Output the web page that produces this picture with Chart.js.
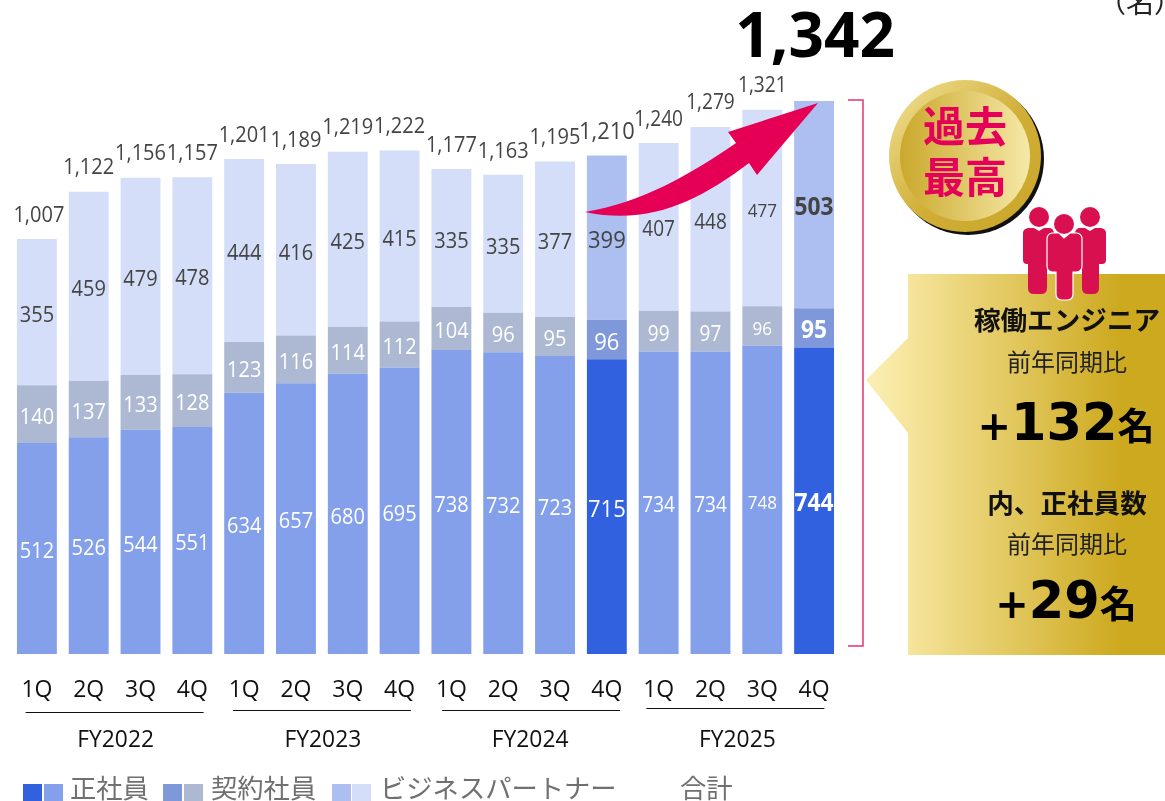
<!DOCTYPE html>
<html lang="ja"><head><meta charset="utf-8">
<style>
html,body{margin:0;padding:0;background:#fff;width:1165px;height:801px;overflow:hidden}
#wrap{position:relative;width:1165px;height:801px}
canvas{position:absolute;left:0;top:0}
svg{position:absolute;left:0;top:0}
</style>
<script src="https://cdn.jsdelivr.net/npm/chart.js@4"></script>
</head><body><div id="wrap">
<canvas id="c" width="1165" height="801"></canvas>
<svg width="1165" height="801" viewBox="0 0 1165 801" xmlns="http://www.w3.org/2000/svg">
<defs>
<linearGradient id="call" x1="0" x2="1" y1="0" y2="0"><stop offset="0" stop-color="#FBEFB4"/><stop offset=".15" stop-color="#F5E49A"/><stop offset=".85" stop-color="#CDA91F"/><stop offset="1" stop-color="#CDA91F"/></linearGradient>
<linearGradient id="ring" x1="0" x2="1" y1="0" y2="1"><stop offset="0" stop-color="#F3E39A"/><stop offset=".55" stop-color="#D0AE35"/><stop offset="1" stop-color="#C9A52A"/></linearGradient>
<linearGradient id="disc" x1="0" x2="1" y1="0" y2="0"><stop offset="0" stop-color="#CBA82C"/><stop offset="1" stop-color="#F6E9A8"/></linearGradient>
</defs>
<path d="M848,100 H863 V646 H848" fill="none" stroke="#E8336F" stroke-width="1.5"/>
<path d="M585,212 C640,203 690,175 736,143 L728,132 L818,103 L757,175 L749,163 C700,200 650,226 585,212 Z" fill="#E50055"/>
<circle cx="968" cy="159" r="76" fill="#111"/>
<circle cx="965" cy="156" r="76" fill="url(#ring)"/>
<circle cx="965" cy="156" r="65" fill="url(#disc)"/>
<g font-family="'Noto Sans CJK JP'" font-weight="700" font-size="42" fill="#E5005A" text-anchor="middle">
<text x="965" y="142">過去</text><text x="965" y="193">最高</text></g>
<path d="M908,274 H1165 V655 H908 V433 L866,380 L908,338 Z" fill="url(#call)"/>
<g fill="#D81050">
<circle cx="1039" cy="217" r="10"/><circle cx="1090" cy="217" r="10"/>
<path d="M1028,228 H1034 L1039,231 L1044,228 H1050 Q1054,229 1054,234 V270 H1047 V288 Q1047,294 1041,294 H1034 Q1028,294 1028,288 V264 H1027 Q1023,264 1023,260 V233 Q1023,229 1028,228 Z"/>
<path d="M1079,228 H1085 L1090,231 L1095,228 H1101 Q1106,229 1106,233 V260 Q1106,264 1102,264 H1099 V288 Q1099,294 1093,294 H1088 Q1082,294 1082,288 V270 H1075 V234 Q1075,229 1079,228 Z"/>
<g stroke="#fff" stroke-width="1.2">
<path d="M1052,233 H1059 L1064,238 L1070,233 H1077 Q1082,234 1082,239 V266 Q1082,272 1076,272 H1073 V294 Q1073,300 1067,300 H1062 Q1056,300 1056,294 V272 H1053 Q1047,272 1047,266 V239 Q1047,234 1052,233 Z"/>
</g>
<circle cx="1064" cy="224" r="10"/>
</g>
<g text-anchor="middle" fill="#111" font-family="'Noto Sans CJK JP'">
<text x="1067" y="330" font-size="26.6" font-weight="700">稼働エンジニア</text>
<text x="1067" y="371" font-size="24" fill="#222">前年同期比</text>
<text x="1067" y="513" font-size="26.6" font-weight="700">内、正社員数</text>
<text x="1067" y="553" font-size="24" fill="#222">前年同期比</text>
</g>
<g fill="#000" font-weight="700" text-anchor="middle">
<text x="1066" y="440"><tspan font-family="'DejaVu Sans'" font-size="40">+</tspan><tspan font-family="'DejaVu Sans'" font-size="51">132</tspan><tspan font-family="'Noto Sans CJK JP'" font-size="37">名</tspan></text>
<text x="1066" y="618"><tspan font-family="'DejaVu Sans'" font-size="40">+</tspan><tspan font-family="'DejaVu Sans'" font-size="51">29</tspan><tspan font-family="'Noto Sans CJK JP'" font-size="37">名</tspan></text>
</g>
<text x="1098" y="13" font-family="'Noto Sans CJK JP'" font-size="28" fill="#222">（名）</text>
</svg>
</div>
<script>
const quarters = ['1Q','2Q','3Q','4Q','1Q','2Q','3Q','4Q','1Q','2Q','3Q','4Q','1Q','2Q','3Q','4Q'];
const fiscalYears = ['FY2022','FY2023','FY2024','FY2025'];
const seishain = [512,526,544,551,634,657,680,695,738,732,723,715,734,734,748,744];
const keiyaku = [140,137,133,128,123,116,114,112,104,96,95,96,99,97,96,95];
const partner = [355,459,479,478,444,416,425,415,335,335,377,399,407,448,477,503];
const totals = [1007,1122,1156,1157,1201,1189,1219,1222,1177,1163,1195,1210,1240,1279,1321,1342];
const emphasised = [11,15];
const shade = (base, strong) => quarters.map((_, i) => emphasised.includes(i) ? strong : base);
const NUM = "'Open Sans'";
const JP = "'Noto Sans CJK JP'";
const ruleY = [712,710,710,708];
const ruleShift = [0,0,2,-1];
const sizeFor = i => i === 14 ? 17 : (i === 11 ? 22 : (i >= 12 ? 19 : 20));

// Reference numerals are tall and slightly condensed.
function narrowText(ctx, txt, x, y, size, weight, sx) {
  ctx.save();
  ctx.translate(x, y); ctx.scale(sx, 1);
  ctx.font = (weight ? weight + ' ' : '') + size + 'px ' + NUM;
  ctx.fillText(txt, 0, 0);
  ctx.restore();
}

const overlay = {
  id: 'overlay',
  afterDatasetsDraw(chart) {
    const { ctx, scales: { x } } = chart;
    ctx.save();
    ctx.textAlign = 'center'; ctx.textBaseline = 'middle';
    [[0,'#fff'],[1,'#fff'],[2,'#444']].forEach(([ds,color]) => {
      chart.getDatasetMeta(ds).data.forEach((bar, i) => {
        const bold = i === 15;
        ctx.fillStyle = color;
        narrowText(ctx, String(chart.data.datasets[ds].data[i]), bar.x, (bar.y + bar.base) / 2 + 3.5,
          (bold ? 25 : sizeFor(i) * 1.1), bold ? 700 : 0, 0.91);
      });
    });
    chart.getDatasetMeta(3).data.forEach((pt, i) => {
      const txt = totals[i].toLocaleString('en-US');
      if (i === 15) {
        ctx.font = '700 62px ' + NUM; ctx.fillStyle = '#000';
        ctx.fillText(txt, pt.x + 1, pt.y - 62);
      } else {
        ctx.fillStyle = '#444';
        narrowText(ctx, txt, pt.x + (i === 0 ? 2 : 0), pt.y - 23.5, i === 11 ? 24 : (i >= 12 ? 21 : 22), 0, 0.91);
      }
    });
    fiscalYears.forEach((fy, g) => {
      const cx = (x.getPixelForValue(g * 4) + x.getPixelForValue(g * 4 + 3)) / 2;
      ctx.strokeStyle = '#111'; ctx.lineWidth = 1;
      const rx = cx + ruleShift[g];
      ctx.beginPath(); ctx.moveTo(rx - 89, ruleY[g] + .5); ctx.lineTo(rx + 89, ruleY[g] + .5); ctx.stroke();
      ctx.fillStyle = '#111';
      narrowText(ctx, fy, cx + 1, 740, 24, 0, 0.95);
    });
    const legend = [
      { sw: [[23,'#3161DE'],[44,'#84A0EA']], tx: 70, ds: 0 },
      { sw: [[163,'#7F98DA'],[184,'#ADB9D3']], tx: 211, ds: 1 },
      { sw: [[332,'#ADBFF0'],[352,'#D4DEF8']], tx: 380, ds: 2 },
      { sw: [], tx: 680, ds: 3 }
    ];
    ctx.textAlign = 'left';
    legend.forEach(l => {
      l.sw.forEach(([sx, col]) => { ctx.fillStyle = col; ctx.fillRect(sx, 784, 19, 17); });
      ctx.font = '26.3px ' + JP; ctx.fillStyle = '#707070';
      ctx.fillText(chart.data.datasets[l.ds].label, l.tx, 788);
    });
    ctx.restore();
  }
};

new Chart(document.getElementById('c'), {
  type: 'bar',
  data: {
    labels: quarters,
    datasets: [
      { label: '正社員', data: seishain, backgroundColor: shade('#84A0EA', '#3161DE'), stack: 's' },
      { label: '契約社員', data: keiyaku, backgroundColor: shade('#ADB9D3', '#7F98DA'), stack: 's' },
      { label: 'ビジネスパートナー', data: partner, backgroundColor: shade('#D4DEF8', '#ADBFF0'), stack: 's' },
      { label: '合計', type: 'line', data: totals, showLine: false, pointRadius: 0, borderColor: 'transparent', backgroundColor: 'transparent' }
    ]
  },
  options: {
    responsive: false, animation: false, devicePixelRatio: 1,
    layout: { padding: { left: 11, right: 325, top: 101, bottom: 87 } },
    plugins: { legend: { display: false }, tooltip: { enabled: false } },
    datasets: { bar: { barPercentage: 0.77, categoryPercentage: 1 } },
    scales: {
      x: {
        stacked: true, offset: true,
        grid: { display: false, drawTicks: false }, border: { display: false },
        ticks: { color: '#111', font: { family: NUM, size: 23 }, padding: 23, autoSkip: false, maxRotation: 0 },
        afterFit(s) { s.height = 60; s.paddingLeft = 0; s.paddingRight = 0; }
      },
      y: { stacked: true, display: false, min: 0, max: 1342 }
    }
  },
  plugins: [overlay]
});
</script>
</body></html>
